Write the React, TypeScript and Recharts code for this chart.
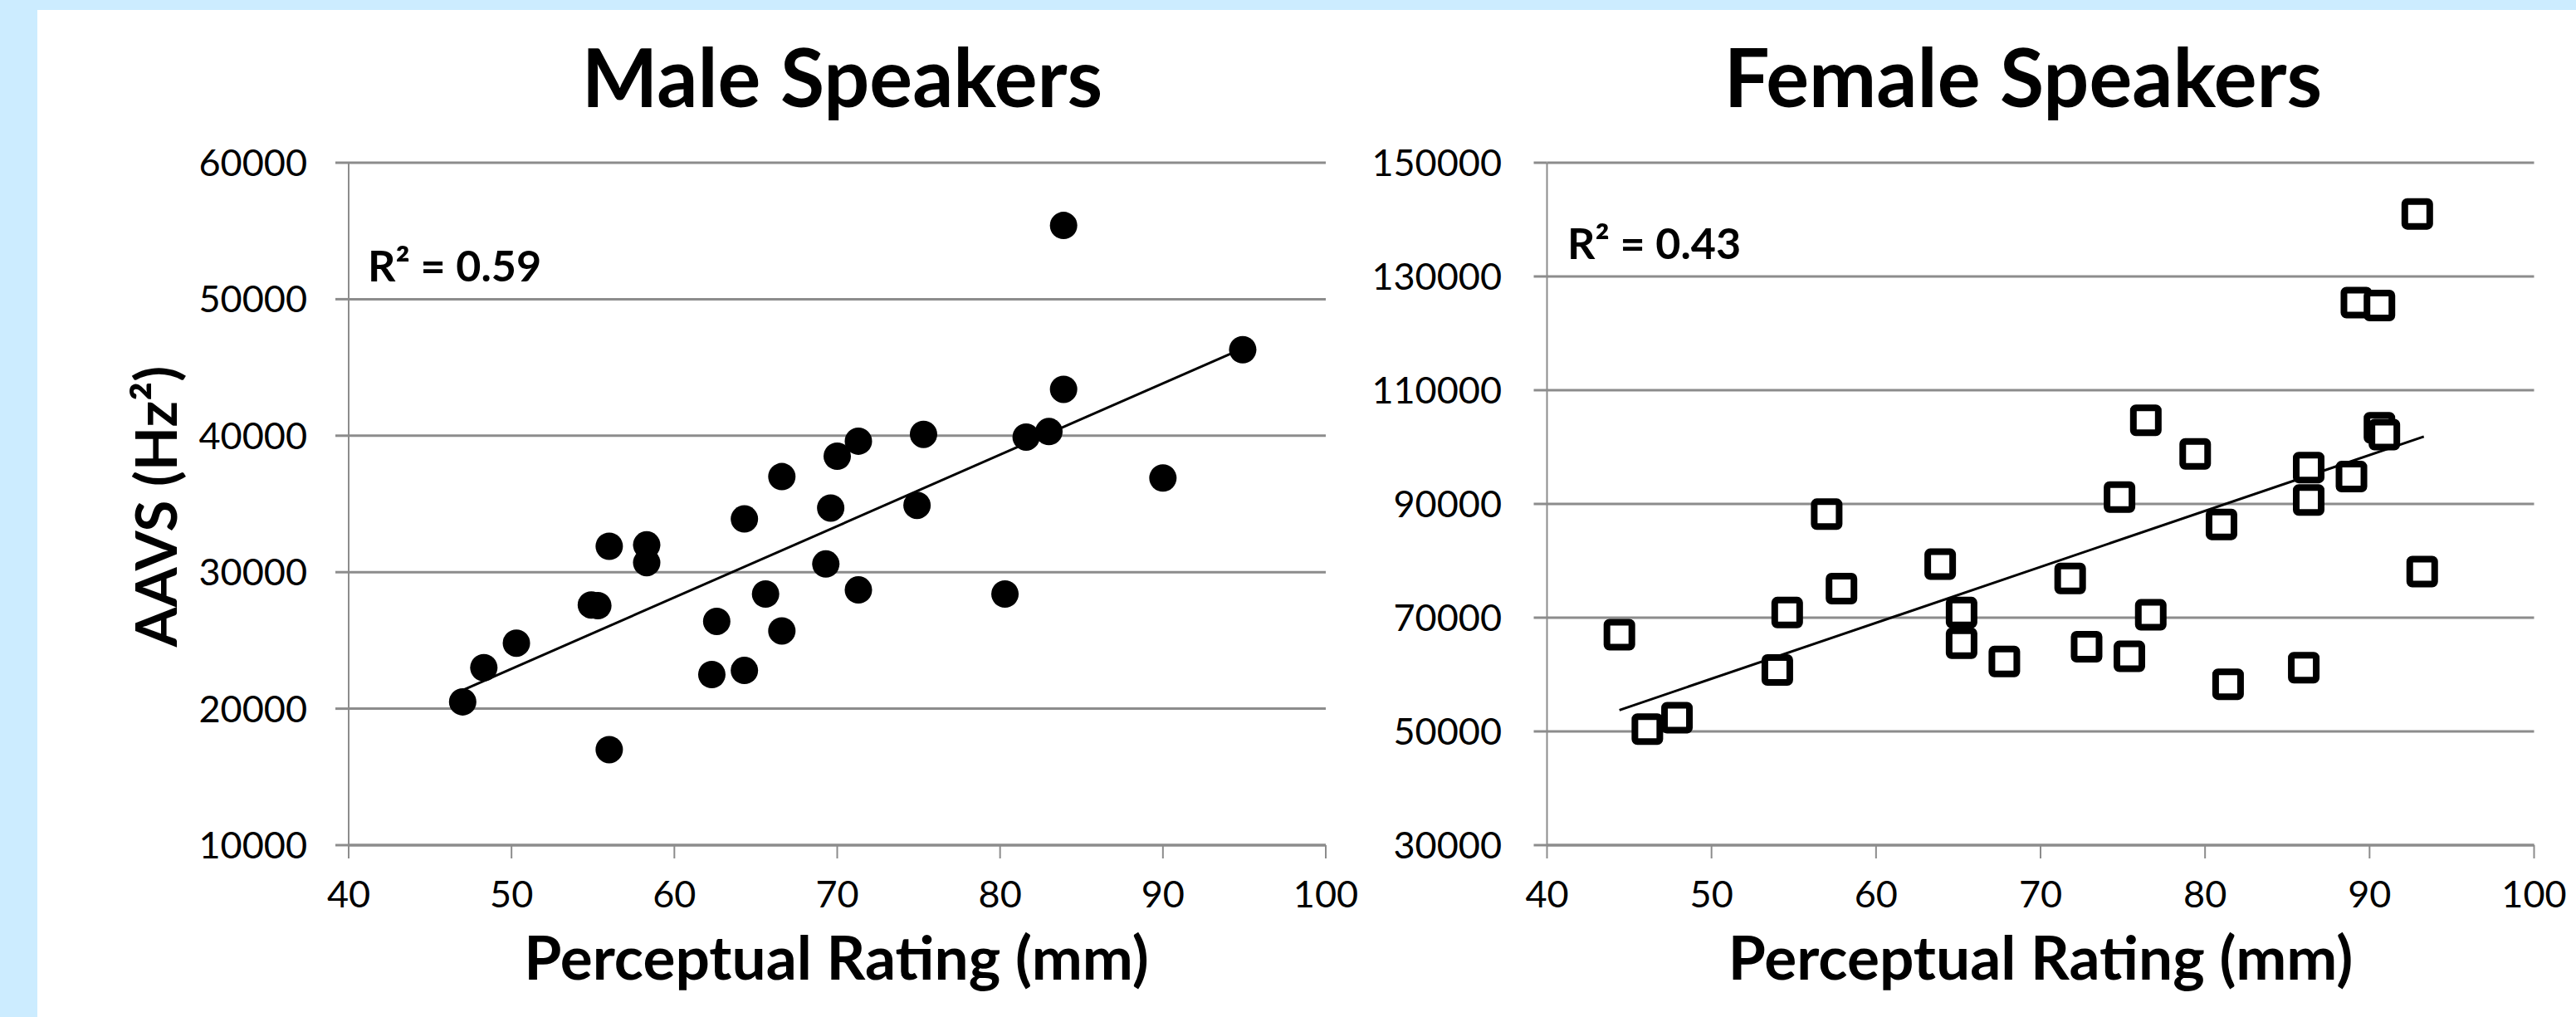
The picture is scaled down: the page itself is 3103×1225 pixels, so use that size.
import React from "react";
import { ScatterChart, Scatter, XAxis, YAxis, CartesianGrid } from "recharts";

// ---- data ----
const maleRating = [47.0, 48.3, 50.3, 54.9, 55.3, 56.0, 56.0, 58.3, 58.3, 62.3, 62.6, 64.3, 64.3, 65.6, 66.6, 66.6, 69.3, 69.6, 70.0, 71.3, 71.3, 74.9, 75.3, 80.3, 81.6, 83.0, 83.9, 83.9, 90.0, 94.9];
const maleAAVS = [20500, 23000, 24800, 27600, 27550, 31900, 17000, 32000, 30700, 22500, 26400, 33900, 22800, 28400, 37000, 25700, 30600, 34700, 38500, 39600, 28700, 34900, 40100, 28400, 39900, 40300, 55400, 43400, 36900, 46300];

const femaleRating = [44.4, 46.1, 47.9, 54.0, 54.6, 57.0, 57.9, 63.9, 65.2, 65.2, 67.8, 71.8, 72.8, 74.8, 75.4, 76.4, 76.7, 79.4, 81.0, 81.4, 86.0, 86.3, 86.3, 88.9, 89.2, 90.6, 90.6, 90.9, 92.9, 93.2];
const femaleAAVS = [67000, 50400, 52400, 60800, 70900, 88200, 75100, 79400, 70900, 65500, 62300, 76900, 64900, 91200, 63200, 104700, 70500, 98800, 86400, 58300, 61200, 96400, 90700, 94800, 125400, 124900, 103400, 102200, 141000, 78100];

// trendline end points
const maleTrendX = [47, 95];
const maleTrendY = [21350, 46450];
const femaleTrendX = [44.4, 93.3];
const femaleTrendY = [53750, 101850];

const xTicks = [40, 50, 60, 70, 80, 90, 100];
const maleYTicks = [10000, 20000, 30000, 40000, 50000, 60000];
const femaleYTicks = [30000, 50000, 70000, 90000, 110000, 130000, 150000];

const maleTitle = "Male Speakers";
const femaleTitle = "Female Speakers";
const xLabel = "Perceptual Rating (mm)";
const yLabel = "AAVS (Hz²)";
const maleR2 = "R² = 0.59";
const femaleR2 = "R² = 0.43";

const zip = (xs: number[], ys: number[]) => xs.map((x, i) => ({ x, y: ys[i] }));
const maleData = zip(maleRating, maleAAVS);
const femaleData = zip(femaleRating, femaleAAVS);
const maleTrend = zip(maleTrendX, maleTrendY);
const femaleTrend = zip(femaleTrendX, femaleTrendY);

const FONT = "Lato, 'Open Sans', sans-serif";
const GRID = "#8c8c8c";

const circleShape = (p: any) => <circle cx={p.cx} cy={p.cy} r={16.5} fill="#000" />;
const squareShape = (p: any) => (
  <rect x={p.cx - 15} y={p.cy - 15} width={30} height={30} rx={3} fill="#fff" stroke="#000" strokeWidth={8} />
);
const noShape = () => <g />;

function Panel(props: {
  left: number;
  width: number;
  margin: { top: number; right: number; bottom: number; left: number };
  data: { x: number; y: number }[];
  trend: { x: number; y: number }[];
  yTicks: number[];
  tickMargin: number;
  shape: any;
}) {
  const { left, width, margin, data, trend, yTicks, tickMargin, shape } = props;
  return (
    <div style={{ position: "absolute", left, top: 0 }}>
      <ScatterChart width={width} height={1225} margin={margin}>
        <CartesianGrid vertical={false} stroke={GRID} strokeWidth={3} />
        <XAxis
          type="number"
          dataKey="x"
          domain={[40, 100]}
          ticks={xTicks}
          interval={0}
          height={120}
          tickSize={16}
          tickMargin={27}
          axisLine={{ stroke: GRID, strokeWidth: 3 }}
          tickLine={{ stroke: GRID, strokeWidth: 2 }}
          tick={{ fill: "#000", fontSize: 45, fontFamily: FONT }}
        />
        <YAxis
          type="number"
          dataKey="y"
          domain={[yTicks[0], yTicks[yTicks.length - 1]]}
          ticks={yTicks}
          interval={0}
          width={200}
          tickSize={16}
          tickMargin={tickMargin}
          axisLine={{ stroke: GRID, strokeWidth: 2 }}
          tickLine={{ stroke: GRID, strokeWidth: 3 }}
          tick={{ fill: "#000", fontSize: 45, fontFamily: FONT }}
        />
        <Scatter data={trend} line={{ stroke: "#000", strokeWidth: 3 }} shape={noShape} isAnimationActive={false} />
        <Scatter data={data} shape={shape} isAnimationActive={false} />
      </ScatterChart>
    </div>
  );
}

export default function App() {
  return (
    <div style={{ position: "absolute", left: 0, top: 0, width: 3103, height: 1225, background: "#CCECFF", overflow: "hidden" }}>
      <div style={{ position: "absolute", left: 45, top: 12, width: 3058, height: 1213, background: "#fff" }} />
      <Panel
        left={0}
        width={1700}
        margin={{ top: 196, right: 103, bottom: 87, left: 220 }}
        data={maleData}
        trend={maleTrend}
        yTicks={maleYTicks}
        tickMargin={34}
        shape={circleShape}
      />
      <Panel
        left={1600}
        width={1503}
        margin={{ top: 196, right: 50.5, bottom: 87, left: 63.5 }}
        data={femaleData}
        trend={femaleTrend}
        yTicks={femaleYTicks}
        tickMargin={38.5}
        shape={squareShape}
      />
      <svg width={3103} height={1225} style={{ position: "absolute", left: 0, top: 0, pointerEvents: "none" }}>
        <g fontFamily={FONT} fontWeight="bold" fill="#000">
          <text x={1014.5} y={128.5} fontSize={97} textAnchor="middle">{maleTitle}</text>
          <text x={2437} y={128.5} fontSize={97} textAnchor="middle">{femaleTitle}</text>
          <text x={1007.5} y={1180} fontSize={73} textAnchor="middle">{xLabel}</text>
          <text x={2458} y={1180} fontSize={73} textAnchor="middle">{xLabel}</text>
          <text transform="translate(213,610) rotate(-90)" fontSize={69} textAnchor="middle">{yLabel}</text>
          <text x={443} y={339} fontSize={52}>{maleR2}</text>
          <text x={1888} y={312} fontSize={52}>{femaleR2}</text>
        </g>
      </svg>
    </div>
  );
}
